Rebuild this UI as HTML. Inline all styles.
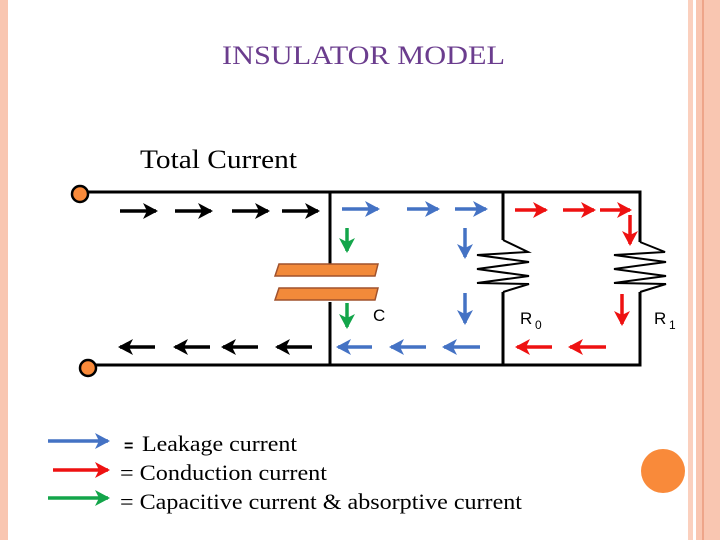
<!DOCTYPE html>
<html><head><meta charset="utf-8"><style>
html,body{margin:0;padding:0;background:#fff;}
svg{display:block;}
</style></head><body>
<svg width="720" height="540" viewBox="0 0 720 540" xmlns="http://www.w3.org/2000/svg">
<defs>
<marker id="hk" markerUnits="userSpaceOnUse" markerWidth="18" markerHeight="18" refX="13" refY="9" orient="auto"><path d="M0,1 L15,9 L0,17 L4,9 Z" fill="#000"/></marker>
<marker id="hb" markerUnits="userSpaceOnUse" markerWidth="18" markerHeight="18" refX="13" refY="9" orient="auto"><path d="M0,1 L15,9 L0,17 L4,9 Z" fill="#4472c4"/></marker>
<marker id="hr" markerUnits="userSpaceOnUse" markerWidth="18" markerHeight="18" refX="13" refY="9" orient="auto"><path d="M0,1 L15,9 L0,17 L4,9 Z" fill="#ee1111"/></marker>
<marker id="hg" markerUnits="userSpaceOnUse" markerWidth="18" markerHeight="18" refX="13" refY="9" orient="auto"><path d="M0,1 L15,9 L0,17 L4,9 Z" fill="#13a54a"/></marker>
</defs>
<rect x="0" y="0" width="8" height="540" fill="#f9c6b1"/>
<rect x="688" y="0" width="5" height="540" fill="#fbd0be"/>
<rect x="696" y="0" width="24" height="540" fill="#f9c6b1"/>
<rect x="702" y="0" width="2" height="540" fill="#eea58a"/>
<circle cx="663" cy="471" r="22" fill="#f98a3a"/>
<text x="222" y="64" font-family="Liberation Serif,serif" font-size="26" fill="#6b3d8e" textLength="283" lengthAdjust="spacingAndGlyphs">INSULATOR MODEL</text>
<text x="140" y="168" font-family="Liberation Serif,serif" font-size="26" fill="#000" textLength="157" lengthAdjust="spacingAndGlyphs">Total  Current</text>
<g stroke="#000" stroke-width="3" fill="none">
<path d="M88,192 H640 V242"/>
<path d="M88,365 H640 V292"/>
<path d="M330,192 V270 M330,302 V365"/>
<path d="M503,192 V240 M503,292 V365"/>
</g>
<g stroke="#000" stroke-width="2" fill="none">
<path d="M503,240 L528,252 L477,255 L529,262 L477,269 L529,276 L477,283 L529,284 L503,292"/>
<path d="M640,242 L665,252 L614,255 L666,262 L614,269 L666,276 L614,283 L666,284 L640,292"/>
</g>
<polygon points="279,264 378,264 375,276 275,276" fill="#f28a3a" stroke="#a0522d" stroke-width="1.5"/>
<polygon points="279,288 378,288 375,300 275,300" fill="#f28a3a" stroke="#a0522d" stroke-width="1.5"/>
<circle cx="80" cy="194" r="8" fill="#f98a3a" stroke="#000" stroke-width="2.5"/>
<circle cx="88" cy="368" r="8" fill="#f98a3a" stroke="#000" stroke-width="2.5"/>
<g stroke="#000" stroke-width="3.5" marker-end="url(#hk)">
<line x1="120" y1="211" x2="156" y2="211"/><line x1="175" y1="211" x2="211" y2="211"/><line x1="232" y1="211" x2="268" y2="211"/><line x1="282" y1="211" x2="318" y2="211"/>
<line x1="155" y1="347" x2="120" y2="347"/><line x1="210" y1="347" x2="175" y2="347"/><line x1="258" y1="347" x2="223" y2="347"/><line x1="312" y1="347" x2="277" y2="347"/>
</g>
<g stroke="#4472c4" stroke-width="3.5" marker-end="url(#hb)">
<line x1="342" y1="209" x2="378" y2="209"/><line x1="407" y1="209" x2="438" y2="209"/><line x1="455" y1="209" x2="486" y2="209"/>
<line x1="465" y1="228" x2="465" y2="257"/><line x1="465" y1="293" x2="465" y2="323"/>
<line x1="372" y1="347" x2="338" y2="347"/><line x1="426" y1="347" x2="391" y2="347"/><line x1="480" y1="347" x2="444" y2="347"/>
<line x1="48" y1="441" x2="108" y2="441"/>
</g>
<g stroke="#ee1111" stroke-width="3.5" marker-end="url(#hr)">
<line x1="515" y1="210" x2="546" y2="210"/><line x1="563" y1="210" x2="594" y2="210"/><line x1="600" y1="210" x2="630" y2="210"/>
<line x1="630" y1="215" x2="630" y2="244"/><line x1="622" y1="294" x2="622" y2="324"/>
<line x1="552" y1="347" x2="517" y2="347"/><line x1="606" y1="347" x2="570" y2="347"/>
<line x1="53" y1="470" x2="108" y2="470"/>
</g>
<g stroke="#13a54a" stroke-width="3.5" marker-end="url(#hg)">
<line x1="347" y1="228" x2="347" y2="251"/><line x1="347" y1="303" x2="347" y2="327"/>
<line x1="48" y1="498" x2="108" y2="498"/>
</g>
<g font-family="Liberation Sans,sans-serif" font-size="17" fill="#000">
<text x="373" y="321">C</text>
<text x="520" y="324">R</text><text x="535" y="329" font-size="12">0</text>
<text x="654" y="324">R</text><text x="669" y="329" font-size="12">1</text>
</g>
<g font-family="Liberation Serif,serif" font-size="22" fill="#000">
<text x="124" y="451"><tspan font-family="Liberation Sans,sans-serif" font-weight="bold" font-size="16">=</tspan></text>
<text x="142" y="451" textLength="155" lengthAdjust="spacingAndGlyphs">Leakage current</text>
<text x="120" y="480" textLength="207" lengthAdjust="spacingAndGlyphs">= Conduction current</text>
<text x="120" y="509" textLength="402" lengthAdjust="spacingAndGlyphs">= Capacitive current &amp; absorptive current</text>
</g>
</svg>
</body></html>
